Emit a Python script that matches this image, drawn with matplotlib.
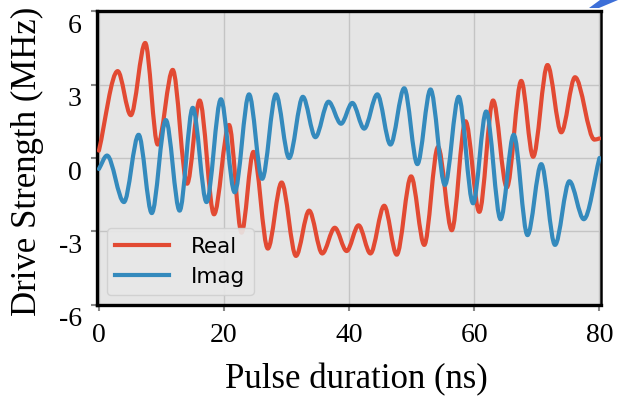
import matplotlib
matplotlib.use("Agg")
from matplotlib import pyplot as plt
from matplotlib.path import Path
from matplotlib.patches import PathPatch, Polygon
from matplotlib.lines import Line2D
from matplotlib.transforms import ScaledTranslation
import numpy as np

# turning points of the two curves (ns, MHz)
real_t = [0, 3.0, 5.1, 7.4, 9.4, 11.8, 14.1, 16.1, 18.4, 20.8, 22.8, 24.7,
          27.0, 29.2, 31.5, 33.6, 35.7, 37.7, 39.6, 41.5, 43.4, 45.6, 47.6,
          49.9, 52.0, 54.2, 56.4, 58.6, 60.8, 63.0, 65.2, 67.5, 69.4, 71.7,
          73.9, 76.1, 79.2, 80]
real_v = [0.3, 3.55, 1.75, 4.7, 0.55, 3.6, -1.05, 2.35, -2.3, 1.35, -3.05, 0.25,
          -3.7, -1.0, -4.0, -2.15, -3.9, -2.85, -3.8, -2.75, -3.9, -1.95, -3.95,
          -0.75, -3.55, 0.45, -2.95, 1.5, -2.2, 2.35, -1.2, 3.15, 0.05, 3.8,
          1.05, 3.3, 0.75, 0.8]

imag_t = [0, 1.3, 4.0, 6.35, 8.45, 10.7, 12.9, 15.0, 17.2, 19.5, 21.7, 24.0,
          26.1, 28.3, 30.4, 32.6, 34.6, 36.7, 38.7, 40.5, 42.4, 44.5, 46.6,
          48.8, 50.9, 53.0, 55.3, 57.5, 59.8, 61.9, 64.2, 66.3, 68.5, 70.7,
          72.9, 75.2, 77.5, 80]
imag_v = [-0.45, 0.1, -1.8, 0.95, -2.25, 1.55, -2.15, 2.05, -1.8, 2.4, -1.4, 2.6,
          -0.85, 2.6, 0.0, 2.5, 0.85, 2.3, 1.4, 2.25, 1.2, 2.6, 0.55,
          2.85, -0.25, 2.8, -1.1, 2.5, -1.85, 1.9, -2.5, 0.95, -3.15, -0.25,
          -3.55, -0.95, -2.5, 0.0]

series_names = ["Real", "Imag"]
series_colors = ["#E24A33", "#348ABD"]
x_ticks = [0, 20, 40, 60, 80]
y_ticks = [-6, -3, 0, 3, 6]
y_tick_labels = ["-6", "-3", "0", "3", "6"]


def smooth_path(t, v):
    # cubic bezier through the turning points, flat at each peak/trough
    t = np.asarray(t, float)
    v = np.asarray(v, float)
    slope = np.gradient(v, t)
    d = np.diff(v)
    turn = np.zeros(len(v), bool)
    turn[1:-1] = d[:-1] * d[1:] <= 0
    slope[turn] = 0
    verts = [(t[0], v[0])]
    codes = [Path.MOVETO]
    for i in range(len(t) - 1):
        h = (t[i + 1] - t[i]) / 3
        verts += [(t[i] + h, v[i] + slope[i] * h),
                  (t[i + 1] - h, v[i + 1] - slope[i + 1] * h),
                  (t[i + 1], v[i + 1])]
        codes += [Path.CURVE4] * 3
    return Path(verts, codes)


plt.rcParams['font.family'] = ['Liberation Serif', 'DejaVu Serif']

fig = plt.figure(figsize=(6.18, 3.98), dpi=100)
ax = fig.add_axes([0.157, 0.234, 0.8155, 0.738])
ax.set_facecolor("#E5E5E5")

handles = []
for (t, v), name, col in zip([(real_t, real_v), (imag_t, imag_v)], series_names, series_colors):
    ax.add_patch(PathPatch(smooth_path(t, v), fill=False, edgecolor=col, lw=3,
                           capstyle='round', joinstyle='round', zorder=3))
    handles.append(Line2D([], [], color=col, lw=3))

ax.set_xlim(-0.3, 80.25)
ax.set_ylim(-6, 6)
ax.set_xticks(x_ticks)
ax.set_yticks(y_ticks)
ax.set_yticklabels(y_tick_labels)
ax.grid(True, color="#C4C4C4", lw=1.0, zorder=1)
ax.set_axisbelow(True)

ax.tick_params(axis='both', direction='out', length=4, width=1.5, color='#888888',
               labelsize=20, labelcolor='black')
ax.tick_params(axis='y', pad=7)
ax.tick_params(axis='x', pad=9)

for side in ['left', 'top', 'bottom', 'right']:
    ax.spines[side].set_color('black')
    ax.spines[side].set_linewidth(2.4)
ax.spines['right'].set_linewidth(1.8)

# tick labels on the y axis sit a bit lower than their ticks
shift = ScaledTranslation(0, -0.12, fig.dpi_scale_trans)
for tk in ax.yaxis.get_major_ticks():
    tk.label1.set_transform(tk.label1.get_transform() + shift)

ax.set_xlabel("Pulse duration (ns)", fontsize=25)
ax.set_ylabel("Drive Strength (MHz)", fontsize=25)
ax.xaxis.set_label_coords(0.515, -0.2)
ax.yaxis.set_label_coords(-0.105, 0.49)

leg = ax.legend(handles, series_names, loc='lower left', fontsize=15.5,
                prop={'family': 'DejaVu Sans', 'size': 15.5},
                handlelength=2.5, handletextpad=1.0, labelspacing=0.45,
                borderaxespad=0.45, facecolor='#E8E8E8', edgecolor='#CFCFCF',
                framealpha=0.9)

# blue sliver in the top right corner of the picture
W, H = 618.0, 398.0
fig.add_artist(Polygon([(589 / W, 1 - 8 / H), (599 / W, 1 - 8 / H),
                        (618 / W, 1.0), (600 / W, 1.0)],
                       closed=True, transform=fig.transFigure,
                       facecolor='#3D6FD8', edgecolor='none'))

fig.savefig("out.png", dpi=100)
